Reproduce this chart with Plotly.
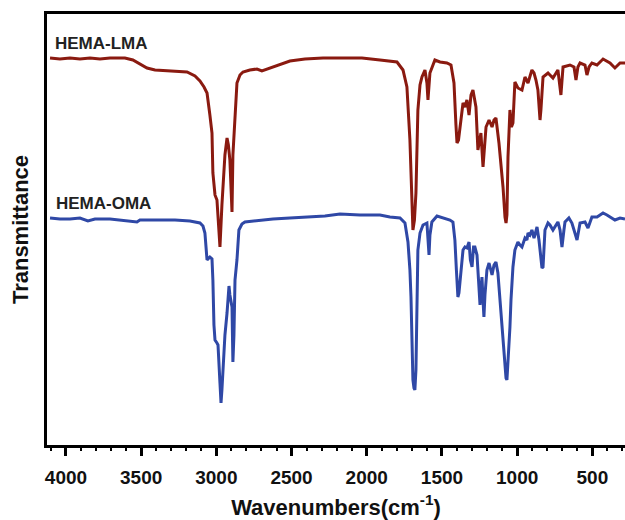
import plotly.graph_objects as go

# HEMA-LMA spectrum (wavenumber cm^-1, transmittance a.u.)
lma_wn = [4106, 4040, 3973, 3907, 3840, 3774, 3707, 3608, 3555, 3508, 3461, 3408, 3309, 3195, 3142,
          3109, 3082, 3062, 3043, 3029, 3023, 3009, 2996, 2976, 2963, 2956, 2943, 2929, 2920, 2910,
          2896, 2890, 2876, 2863, 2843, 2823, 2777, 2730, 2697, 2624, 2511, 2411, 2291, 2178,
          2032, 1912, 1846, 1799, 1759, 1733, 1713, 1699, 1693, 1683, 1673, 1660, 1646, 1633, 1613,
          1600, 1593, 1580, 1547, 1513, 1467, 1440, 1420, 1407, 1400, 1390, 1380, 1360, 1347, 1334,
          1320, 1307, 1294, 1274, 1261, 1247, 1241, 1227, 1207, 1187, 1167, 1154, 1141, 1121, 1107,
          1094, 1081, 1074, 1068, 1061, 1048, 1038, 1028, 1015, 995, 968, 948, 928, 902, 888, 875,
          862, 848, 842, 828, 795, 762, 729, 709, 695, 649, 622, 609, 596, 582, 549, 536, 522, 503,
          469, 429, 403, 383, 350, 316, 283]
lma_t = [387, 386, 387, 386, 387, 386, 387, 387, 385, 381, 377, 375, 374, 373, 369,
         364, 358, 352, 330, 312, 272, 250, 245, 198, 240, 255, 290, 307, 300, 285,
         233, 290, 335, 362, 370, 373, 375, 376, 374, 378, 384, 386, 387, 387,
         387, 385, 384, 383, 375, 358, 305, 232, 215, 225, 252, 335, 360, 368, 375,
         362, 345, 372, 385, 383, 382, 380, 362, 320, 302, 305, 318, 342, 338, 345,
         330, 350, 355, 338, 295, 310, 312, 278, 318, 325, 318, 325, 327, 302, 280,
         258, 228, 222, 230, 288, 335, 318, 322, 363, 357, 355, 368, 362, 375, 372, 365,
         355, 325, 335, 368, 372, 367, 375, 350, 378, 380, 378, 365, 378, 382, 380, 370, 378, 382,
         380, 386, 384, 382, 377, 382, 382]

# HEMA-OMA spectrum
oma_wn = [4106, 4040, 3973, 3907, 3854, 3807, 3707, 3641, 3528, 3508, 3375, 3275, 3176, 3109, 3089,
          3076, 3062, 3043, 3029, 3023, 3016, 3009, 2996, 2989, 2976, 2969, 2963, 2956, 2943, 2929,
          2916, 2910, 2896, 2890, 2883, 2876, 2863, 2850, 2830, 2810, 2710, 2624, 2511, 2398, 2278, 2178,
          2045, 1912, 1846, 1779, 1746, 1726, 1713, 1706, 1699, 1693, 1686, 1680, 1673, 1666, 1660,
          1646, 1626, 1600, 1593, 1586, 1580, 1567, 1533, 1480, 1447, 1427, 1414, 1404, 1394, 1387,
          1374, 1360, 1347, 1334, 1320, 1311, 1300, 1290, 1281, 1267, 1257, 1247, 1241, 1234, 1227,
          1221, 1214, 1201, 1187, 1174, 1167, 1154, 1141, 1128, 1121, 1107, 1101, 1094, 1081, 1074,
          1068, 1061, 1055, 1048, 1041, 1028, 1015, 995, 981, 968, 948, 935, 928, 915, 902, 888, 882,
          868, 855, 848, 835, 828, 815, 795, 782, 762, 742, 729, 715, 702, 689, 682, 656, 636, 616,
          602, 582, 549, 529, 516, 503, 469, 429, 403, 383, 350, 316, 283]
oma_t = [227, 226, 226, 227, 224, 226, 226, 225, 223, 225, 225, 225, 224, 222, 219,
         212, 185, 188, 186, 165, 120, 105, 102, 100, 62, 42, 55, 78, 110, 132,
         159, 150, 138, 83, 110, 165, 185, 215, 221, 223, 225, 226, 227, 228, 229, 231,
         230, 230, 228, 227, 222, 203, 175, 148, 100, 65, 57, 55, 75, 122, 195,
         212, 220, 222, 205, 190, 210, 223, 229, 227, 225, 223, 205, 175, 148, 152,
         172, 195, 198, 197, 203, 185, 178, 198, 198, 190, 165, 140, 155, 168, 145,
         128, 150, 175, 182, 175, 170, 180, 183, 172, 158, 130, 122, 102, 82, 67,
         65, 82, 95, 118, 145, 178, 195, 203, 200, 198, 207, 205, 212, 210, 215, 207, 210,
         218, 205, 195, 177, 178, 215, 222, 220, 215, 220, 223, 215, 198, 215, 223, 227, 222, 212,
         205, 222, 223, 217, 222, 228, 228, 232, 230, 228, 225, 227, 226]

x_ticks = [4000, 3500, 3000, 2500, 2000, 1500, 1000, 500]
x_range = [4126, 283]
y_range = [0, 431]

FONT = "Liberation Sans, Arial, sans-serif"

fig = go.Figure()
fig.add_trace(go.Scatter(x=lma_wn, y=lma_t, mode="lines", name="HEMA-LMA",
                         line=dict(color="#8A1A10", width=3)))
fig.add_trace(go.Scatter(x=oma_wn, y=oma_t, mode="lines", name="HEMA-OMA",
                         line=dict(color="#2F48A6", width=3)))

fig.add_annotation(x=4088, y=402, text="<b>HEMA-LMA</b>", showarrow=False, xanchor="left",
                   yanchor="middle", font=dict(family=FONT, size=17, color="#222222"))
fig.add_annotation(x=4080, y=242, text="<b>HEMA-OMA</b>", showarrow=False, xanchor="left",
                   yanchor="middle", font=dict(family=FONT, size=17, color="#222222"))

fig.update_layout(
    width=625, height=520,
    margin=dict(l=47, r=0, t=14, b=75),
    paper_bgcolor="white", plot_bgcolor="white",
    showlegend=False,
    font=dict(family=FONT, color="#111111"),
)
fig.update_xaxes(
    range=x_range, tickvals=x_ticks, ticktext=[str(v) for v in x_ticks],
    showgrid=False, zeroline=False,
    showline=True, linecolor="black", linewidth=3, mirror=True,
    ticks="outside", ticklen=8, tickwidth=2.5, tickcolor="black",
    ticklabelstandoff=5,
    minor=dict(dtick=100, tick0=0, ticks="outside", ticklen=3, tickwidth=2, tickcolor="black", showgrid=False),
    tickfont=dict(family=FONT, size=19, color="#111111", weight="bold"),
    title=dict(text="<b>Wavenumbers(cm<sup>-1</sup>)</b>", standoff=13,
               font=dict(family=FONT, size=22, color="#111111")),
)
fig.update_yaxes(
    range=y_range, showgrid=False, zeroline=False, showticklabels=False, ticks="",
    showline=True, linecolor="black", linewidth=3,
    title=dict(text="<b>Transmittance</b>", standoff=10,
               font=dict(family=FONT, size=22, color="#111111")),
)

fig.write_html("out.html")
